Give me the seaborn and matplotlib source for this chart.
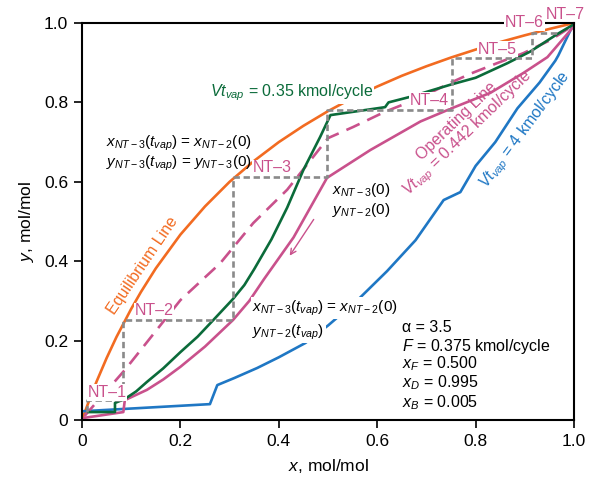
import matplotlib
matplotlib.use("Agg")
import matplotlib.pyplot as plt
import numpy as np
import seaborn as sns

# Equilibrium curve (alpha = 3.5)
eq_x = [0.0, 0.01, 0.02, 0.03, 0.05, 0.07, 0.10, 0.12, 0.15, 0.20, 0.25, 0.30, 0.35, 0.40, 0.45,
        0.50, 0.55, 0.60, 0.65, 0.70, 0.75, 0.80, 0.85, 0.90, 0.95, 1.0]
eq_y = [0.0, 0.034, 0.067, 0.098, 0.156, 0.209, 0.280, 0.323, 0.382, 0.467, 0.538, 0.600, 0.653,
        0.700, 0.741, 0.778, 0.811, 0.840, 0.867, 0.891, 0.913, 0.933, 0.952, 0.969, 0.985, 1.0]

# Vt_vap = 0.35 kmol/cycle
green_x = [0.012, 0.067, 0.067, 0.087, 0.110, 0.132, 0.165, 0.200, 0.235, 0.267, 0.307, 0.330, 0.350,
           0.385, 0.417, 0.450, 0.484, 0.505, 0.616, 0.623, 0.667, 0.750, 0.800, 0.865, 0.911, 0.966, 1.0]
green_y = [0.020, 0.020, 0.043, 0.053, 0.072, 0.096, 0.130, 0.171, 0.210, 0.252, 0.305, 0.340, 0.380,
           0.455, 0.535, 0.630, 0.713, 0.768, 0.788, 0.800, 0.814, 0.845, 0.862, 0.899, 0.928, 0.972, 0.997]

# Operating line, Vt_vap = 0.442 kmol/cycle
op_x = [0.002, 0.084, 0.087, 0.132, 0.165, 0.200, 0.250, 0.307, 0.340, 0.370, 0.430, 0.498, 0.586,
        0.688, 0.753, 0.830, 0.897, 0.946, 1.0]
op_y = [0.005, 0.020, 0.050, 0.076, 0.102, 0.134, 0.185, 0.252, 0.300, 0.355, 0.460, 0.610, 0.680,
        0.752, 0.786, 0.824, 0.874, 0.914, 0.992]

# dashed operating line
dash_x = [0.005, 0.087, 0.200, 0.281, 0.348, 0.417, 0.500, 0.551, 0.615, 0.688, 0.750, 0.789, 0.844,
          0.897, 0.952, 1.0]
dash_y = [0.010, 0.126, 0.302, 0.395, 0.496, 0.580, 0.710, 0.738, 0.776, 0.812, 0.850, 0.872, 0.899,
          0.924, 0.957, 0.995]

# Vt_vap = 4 kmol/cycle
blue_x = [0.0, 0.260, 0.275, 0.310, 0.356, 0.400, 0.454, 0.500, 0.560, 0.620, 0.678, 0.735, 0.769,
          0.800, 0.840, 0.885, 0.930, 0.962, 0.968, 1.0]
blue_y = [0.022, 0.040, 0.088, 0.106, 0.131, 0.158, 0.194, 0.238, 0.302, 0.375, 0.453, 0.554, 0.574,
          0.640, 0.700, 0.785, 0.850, 0.905, 0.918, 1.0]

# stage staircase
stair_x = [0.010, 0.010, 0.084, 0.084, 0.307, 0.307, 0.498, 0.498, 0.753, 0.753, 0.914, 0.914, 0.968]
stair_y = [0.020, 0.050, 0.050, 0.252, 0.252, 0.612, 0.612, 0.781, 0.781, 0.912, 0.912, 0.975, 0.975]

stage_names = ["NT–1", "NT–2", "NT–3", "NT–4", "NT–5", "NT–6", "NT–7"]
stage_x = [0.051, 0.146, 0.387, 0.706, 0.844, 0.899, 0.983]
stage_y = [0.070, 0.275, 0.635, 0.806, 0.934, 1.000, 1.022]

ticks = [0.0, 0.2, 0.4, 0.6, 0.8, 1.0]
tick_labels = ["0", "0.2", "0.4", "0.6", "0.8", "1.0"]

ORANGE = "#f26b21"
GREEN = "#0b6b3a"
PINK = "#c9518c"
BLUE = "#1f77c4"
GRAY = "#8a8a8a"

sns.set_theme(style="ticks")
plt.rcParams["font.family"] = ["Liberation Sans", "DejaVu Sans"]
plt.rcParams["mathtext.fontset"] = "custom"
plt.rcParams["mathtext.rm"] = "Liberation Sans"
plt.rcParams["mathtext.it"] = "Liberation Sans:italic"
plt.rcParams["mathtext.bf"] = "Liberation Sans:bold"
plt.rcParams["text.color"] = "black"
plt.rcParams["axes.labelcolor"] = "black"

fig = plt.figure(figsize=(5.96, 4.83), dpi=100)
ax = fig.add_axes([0.1376, 0.1304, 0.8255, 0.822])

lw = 1.9
sns.lineplot(x=eq_x, y=eq_y, sort=False, estimator=None, color=ORANGE, lw=lw, ax=ax)
sns.lineplot(x=blue_x, y=blue_y, sort=False, estimator=None, color=BLUE, lw=lw, ax=ax)
sns.lineplot(x=op_x, y=op_y, sort=False, estimator=None, color=PINK, lw=lw, ax=ax)
sns.lineplot(x=dash_x, y=dash_y, sort=False, estimator=None, color=PINK, lw=lw,
             linestyle=(0, (5.5, 3.2)), ax=ax)
sns.lineplot(x=green_x, y=green_y, sort=False, estimator=None, color=GREEN, lw=lw, ax=ax)
sns.lineplot(x=stair_x, y=stair_y, sort=False, estimator=None, color=GRAY, lw=lw,
             linestyle=(0, (2.4, 1.4)), ax=ax)

ax.set_xlim(0, 1)
ax.set_ylim(0, 1)
ax.set_xticks(ticks, tick_labels)
ax.set_yticks(ticks, tick_labels)
ax.tick_params(axis="both", direction="out", length=6, width=1.2, labelsize=12.5, colors="black", pad=4)
for s in ax.spines.values():
    s.set_visible(True)
    s.set_linewidth(1.5)
    s.set_color("black")
ax.set_xlabel("$x$, mol/mol", fontsize=12.5, labelpad=6)
ax.set_ylabel("$y$, mol/mol", fontsize=12.5, labelpad=6)

white = dict(facecolor="white", edgecolor="none", pad=0.6)

# stage labels
for name, sx, sy in zip(stage_names, stage_x, stage_y):
    ax.text(sx, sy, name, color=PINK, fontsize=11.5, ha="center", va="center",
            bbox=white if name != "NT–7" else None, zorder=4)

# curve labels
ax.text(0.26, 0.824, "$Vt_{vap}$ = 0.35 kmol/cycle", color=GREEN, fontsize=11.5,
        ha="left", va="center", bbox=white, zorder=4)
ax.text(0.124, 0.39, "Equilibrium Line", color=ORANGE, fontsize=11.5, rotation=56,
        ha="center", va="center", rotation_mode="anchor")
ax.text(0.775, 0.735, "Operating Line\n$Vt_{vap}$ = 0.442 kmol/cycle", color=PINK, fontsize=11.5,
        rotation=44, ha="center", va="center", rotation_mode="anchor", multialignment="center",
        linespacing=0.95)
ax.text(0.901, 0.73, "$Vt_{vap}$ = 4 kmol/cycle", color=BLUE, fontsize=11.5, rotation=53.5,
        ha="center", va="center", rotation_mode="anchor")

# stage annotations
ax.text(0.049, 0.698, "$x_{NT-3}(t_{vap})$ = $x_{NT-2}(0)$", fontsize=11, ha="left", va="center")
ax.text(0.049, 0.647, "$y_{NT-3}(t_{vap})$ = $y_{NT-3}(0)$", fontsize=11, ha="left", va="center")
ax.text(0.509, 0.579, "$x_{NT-3}(0)$", fontsize=11, ha="left", va="center")
ax.text(0.509, 0.529, "$y_{NT-2}(0)$", fontsize=11, ha="left", va="center")
ax.text(0.346, 0.282, "$x_{NT-3}(t_{vap})$ = $x_{NT-2}(0)$", fontsize=11, ha="left", va="center",
        bbox=dict(facecolor="white", edgecolor="none", pad=1.0), zorder=4)
ax.text(0.346, 0.222, "$y_{NT-2}(t_{vap})$", fontsize=11, ha="left", va="center",
        bbox=dict(facecolor="white", edgecolor="none", pad=1.0), zorder=4)

# direction arrow
ax.annotate("", xy=(0.419, 0.408), xytext=(0.474, 0.511),
            arrowprops=dict(arrowstyle="->", color=PINK, lw=1.0, mutation_scale=10))

# parameters
params = ["α = 3.5", "$F$ = 0.375 kmol/cycle", "$x_F$ = 0.500", "$x_D$ = 0.995", "$x_B$ = 0.005"]
param_y = [0.234, 0.186, 0.141, 0.093, 0.045]
for p, py in zip(params, param_y):
    ax.text(0.651, py, p, fontsize=11.5, ha="left", va="center")

fig.savefig("out.png", dpi=100)
